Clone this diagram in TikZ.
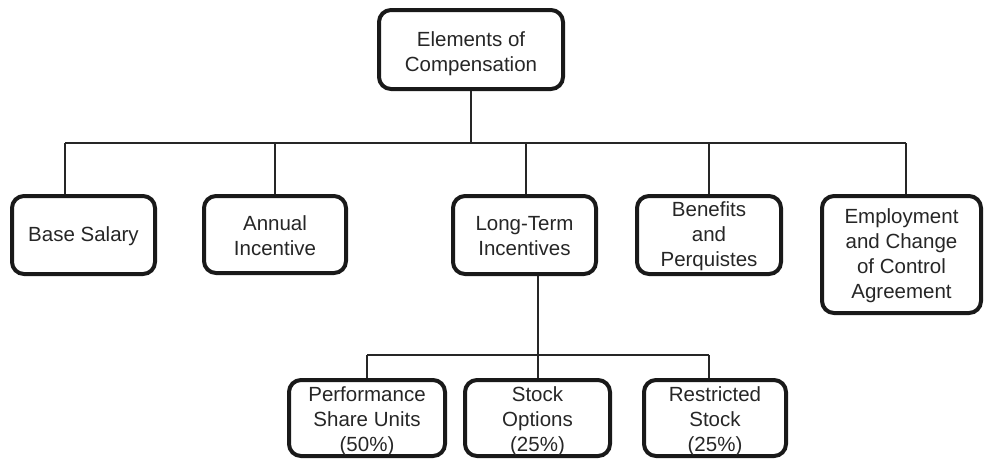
\documentclass[tikz,border=0pt]{standalone}
\usepackage{fontspec}
\setmainfont{Liberation Sans}
\begin{document}
\begin{tikzpicture}[x=1pt,y=-1pt,
  box/.style={draw=black!90, line width=4pt, rounded corners=12pt, inner sep=0pt},
  txt/.style={align=center, inner sep=0pt, text=black!85, font=\fontsize{20.5}{25}\selectfont},
  conn/.style={draw=black!85, line width=1.3pt}]
\useasboundingbox (0,0) rectangle (985,459);
% boxes
\node[box, minimum width=184pt, minimum height=79pt] (top) at (471,49.5) {};
\node[box, minimum width=143pt, minimum height=78pt] (bs) at (83.5,235) {};
\node[box, minimum width=142pt, minimum height=77pt] (ai) at (275,234.5) {};
\node[box, minimum width=143pt, minimum height=78pt] (lt) at (524.5,235) {};
\node[box, minimum width=144pt, minimum height=78pt] (bp) at (709,235) {};
\node[box, minimum width=159pt, minimum height=117pt] (ec) at (901.5,254.5) {};
\node[box, minimum width=156pt, minimum height=76pt] (ps) at (367,418) {};
\node[box, minimum width=145pt, minimum height=76pt] (so) at (537.5,418) {};
\node[box, minimum width=142pt, minimum height=76pt] (rs) at (715,418) {};
% texts
\node[txt] (ttop) at ([yshift=-4pt]top.center) {Elements of\\Compensation};
\node[txt] (tbs) at ([yshift=-1pt]bs.center) {Base Salary};
\node[txt] (tai) at ([yshift=-1pt]ai.center) {Annual\\Incentive};
\node[txt] (tlt) at ([yshift=-1pt]lt.center) {Long-Term\\Incentives};
\node[txt] (tbp) at ([yshift=-1pt]bp.center) {Benefits\\and\\Perquistes};
\node[txt] (tec) at ([yshift=-1pt]ec.center) {Employment\\and Change\\of Control\\Agreement};
\node[txt] (tps) at ([yshift=-3pt]ps.center) {Performance\\Share Units\\(50\%)};
\node[txt] (tso) at ([yshift=-3pt]so.center) {Stock\\Options\\(25\%)};
\node[txt] (trs) at ([yshift=-3pt]rs.center) {Restricted\\Stock\\(25\%)};
% junctions
\coordinate (bus) at (471,143);
\coordinate (j1) at (65,143);
\coordinate (j2) at (275,143);
\coordinate (j3) at (526,143);
\coordinate (j4) at (709,143);
\coordinate (j5) at (906,143);
\coordinate (lbus) at (538,355);
\coordinate (k1) at (367,355);
\coordinate (k2) at (538,355);
\coordinate (k3) at (709,355);
% connectors
\draw[conn] (bus |- top.south) -- (bus);
\draw[conn] (j1) -- (j5);
\draw[conn] (j1) -- (j1 |- bs.north);
\draw[conn] (j2) -- (j2 |- ai.north);
\draw[conn] (j3) -- (j3 |- lt.north);
\draw[conn] (j4) -- (j4 |- bp.north);
\draw[conn] (j5) -- (j5 |- ec.north);
\draw[conn] (lbus |- lt.south) -- (lbus);
\draw[conn] (k1) -- (k3);
\draw[conn] (k1) -- (k1 |- ps.north);
\draw[conn] (k2) -- (k2 |- so.north);
\draw[conn] (k3) -- (k3 |- rs.north);
\end{tikzpicture}
\end{document}
